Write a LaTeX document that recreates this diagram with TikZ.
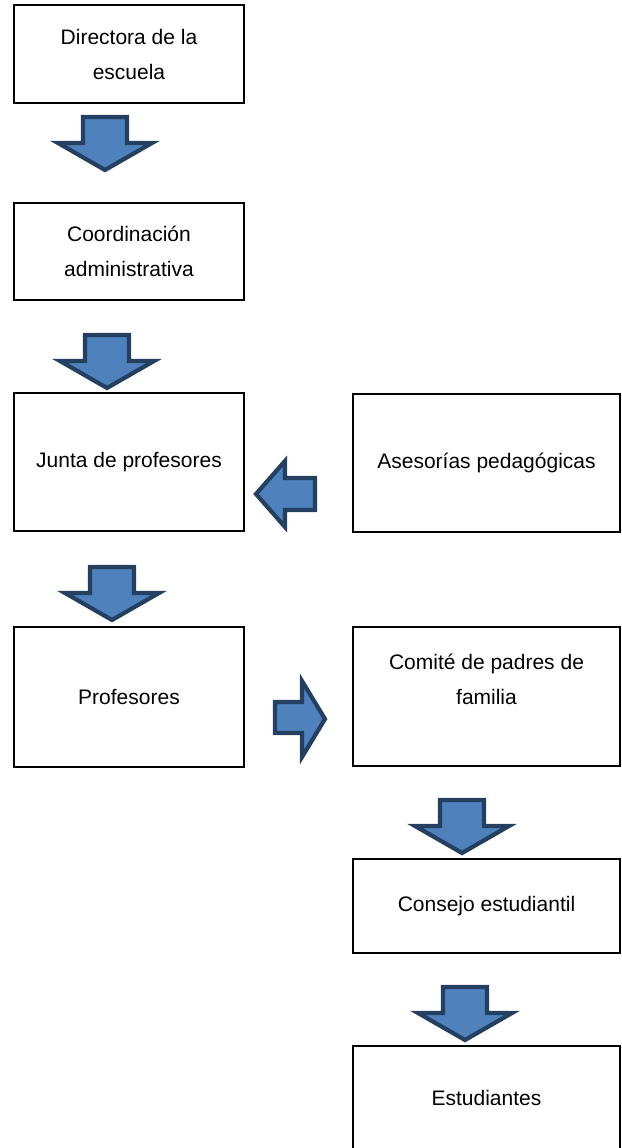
\documentclass[tikz,border=0pt]{standalone}
\usepackage{fontspec}
\setmainfont{Liberation Sans}
\usepackage{tikz}
\usetikzlibrary{calc}
\usepackage{xcolor}

\definecolor{flechaazul}{HTML}{4F81BD}
\definecolor{flechaborde}{HTML}{243F60}

\begin{document}
\begin{tikzpicture}[x=1pt,y=-1pt,
  caja/.style={draw,rectangle,line width=2.4pt,align=center,inner sep=0pt,
    font=\fontsize{21}{35}\selectfont},
  flecha/.style={fill=flechaazul,draw=flechaborde,line width=4.2pt,line join=miter}]
  \useasboundingbox (0,0) rectangle (621,1148);
  \clip (0,0) rectangle (621,1148);

\node[caja,minimum width=230,minimum height=98] (directora) at (129,54)
{Directora de la\\escuela};

\node[caja,minimum width=230,minimum height=97] (coordinacion) at (129,251.5)
{Coordinación\\administrativa};

\node[caja,minimum width=230,minimum height=138] (junta) at (129,462)
{Junta de profesores};

\node[caja,minimum width=267,minimum height=138] (asesorias) at (486.5,463)
{Asesorías pedagógicas};

\node[caja,minimum width=230,minimum height=140] (profesores) at (129,697)
{Profesores};

\node[caja,minimum width=267,minimum height=139] (comite) at (486.5,696.5)
{Comité de padres de\\familia\\\mbox{}};

\node[caja,minimum width=267,minimum height=94] (consejo) at (486.5,906)
{Consejo estudiantil};

\node[caja,minimum width=267,minimum height=138] (estudiantes) at (486.5,1115)
{Estudiantes\\\mbox{}};

% flechas hacia abajo
\foreach \cx/\ty in {105/117,107/335,112/567,462/800,465/987}
  \draw[flecha,shift={(\cx,\ty)}] (-22,0) -- (22,0) -- (22,26) -- (47,26)
    -- (0,53) -- (-47,26) -- (-22,26) -- cycle;

% flecha a la izquierda
\draw[flecha] (315,478) -- (285,478) -- (285,461) -- (256,494)
  -- (285,527) -- (285,510) -- (315,510) -- cycle;

% flecha a la derecha
\draw[flecha] (275,702) -- (302,702) -- (302,681) -- (325,719)
  -- (302,757) -- (302,733) -- (275,733) -- cycle;

\end{tikzpicture}
\end{document}
